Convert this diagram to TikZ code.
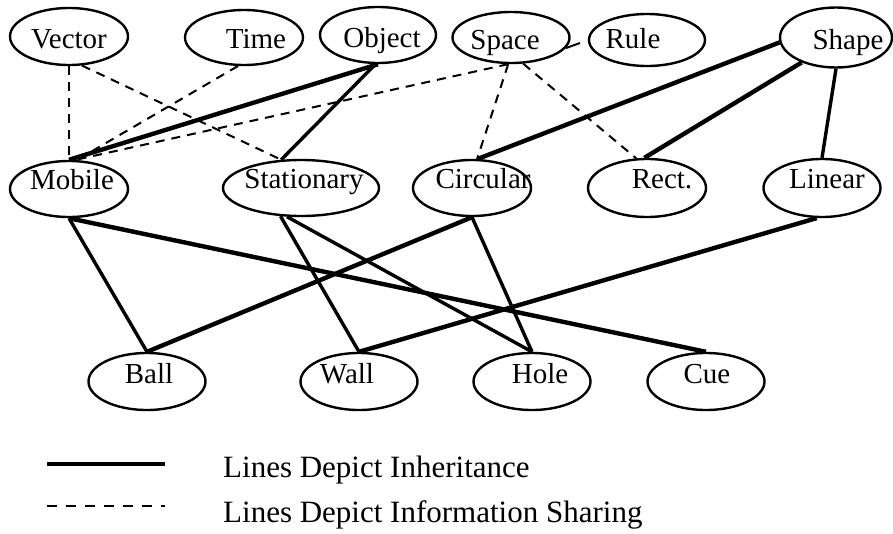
\documentclass[tikz,border=0pt]{standalone}
\usepackage{fontspec}
\setmainfont{Liberation Serif}
\usetikzlibrary{shapes.geometric}

% label inside a fixed-size ellipse: horizontal shift, raise, text
\newcommand\nodetext[3]{\makebox[0pt]{\hspace*{#1pt}\raisebox{#2pt}{#3}\hspace*{-#1pt}}}

\tikzset{
  cls/.style={ellipse, draw, line width=2.4pt, inner sep=0pt,
    minimum width=118pt, minimum height=55pt,
    text height=20pt, text depth=6pt,
    font=\fontsize{29pt}{34pt}\selectfont},
  inherit/.style={line width=4.4pt},
  inheritthin/.style={line width=3.4pt},
  share/.style={line width=2pt, dash pattern=on 9pt off 7pt},
  legendtext/.style={anchor=base west, inner sep=0pt,
    font=\fontsize{31pt}{36pt}\selectfont},
}

\begin{document}
\begin{tikzpicture}[x=1pt, y=-1pt]
\useasboundingbox (0,0) rectangle (893,533);

% top row
\node[cls, minimum height=57pt] (vec) at (69,36.5) {\nodetext{0}{-4.6}{Vector}};
\node[cls] (time) at (244,37.5) {\nodetext{12}{-3.6}{Time}};
\node[cls, minimum width=116pt, minimum height=56pt] (obj) at (378,35) {\nodetext{4}{-5.6}{Object}};
\node[cls, minimum width=117pt, minimum height=51pt] (spa) at (511,37.5) {\nodetext{-6}{-5}{Space}};
\node[cls, minimum width=116pt, minimum height=52pt] (rule) at (647,40) {\nodetext{-14}{-1.1}{Rule}};
\node[cls, minimum width=112pt, minimum height=60pt] (shp) at (836,37.5) {\nodetext{12}{-5.1}{Shape}};

% middle row
\node[cls, minimum height=56pt] (mob) at (69,189) {\nodetext{3}{6.5}{Mobile}};
\node[cls, minimum width=156pt, minimum height=56pt] (sta) at (301,188) {\nodetext{3}{6.5}{Stationary}};
\node[cls, minimum height=56pt] (circ) at (472,188) {\nodetext{11}{6.5}{Circular}};
\node[cls, minimum height=58pt] (rect) at (647,188) {\nodetext{15}{6.5}{Rect.}};
\node[cls, minimum width=117pt, minimum height=58pt] (lin) at (822,188) {\nodetext{5}{6.5}{Linear}};

% bottom row
\node[cls, minimum width=117pt, minimum height=57pt] (ball) at (147,381.5) {\nodetext{2}{5.5}{Ball}};
\node[cls, minimum width=117pt, minimum height=57pt] (wall) at (359,381.5) {\nodetext{-12}{5.5}{Wall}};
\node[cls, minimum width=117pt, minimum height=57pt] (hole) at (532,381.5) {\nodetext{8}{5.5}{Hole}};
\node[cls, minimum width=117pt, minimum height=57pt] (cue) at (706,381.5) {\nodetext{1}{5.5}{Cue}};

% information sharing
\draw[share] (vec.south) -- (mob.north);
\draw[share] (vec.-66) -- (sta.125);
\draw[share] (time.-102) -- (mob.75);
\draw[share] (spa.-96) -- (mob.78);
\draw[share] (spa.-96) -- (circ.80);
\draw[share] (spa.-65) -- (rect.110);

% short stub beside Space
\coordinate (stub) at (580,43);
\draw[line width=2pt] (spa.-11) -- (stub);

% inheritance, upper level
\draw[inherit] (obj.south) -- (mob.north);
\draw[inheritthin] (obj.-95) -- (sta.125);
\draw[inherit] (shp.-175) -- (circ.79);
\draw[inherit] (shp.-144) -- (rect.95);
\draw[inheritthin] (shp.south) -- (lin.north);

% inheritance, lower level
\draw[inheritthin] (mob.south) -- (ball.north);
\draw[inherit] (mob.south) -- (cue.north);
\draw[inheritthin] (sta.-126) -- (wall.north);
\draw[inheritthin] (sta.-116) -- (hole.north);
\draw[inherit] (circ.south) -- (ball.north);
\draw[inheritthin] (circ.south) -- (hole.north);
\draw[inherit] (lin.-100) -- (wall.north);

% legend
\coordinate (la) at (47,464);
\coordinate (lb) at (165,464);
\coordinate (lc) at (47,506);
\coordinate (ld) at (165,506);
\draw[inherit] (la) -- (lb);
\draw[line width=2.2pt, dash pattern=on 10pt off 9pt] (lc) -- (ld);
\node[legendtext] (leg1) at (223,477) {Lines Depict Inheritance};
\node[legendtext] (leg2) at (223,522) {Lines Depict Information Sharing};
\end{tikzpicture}
\end{document}
